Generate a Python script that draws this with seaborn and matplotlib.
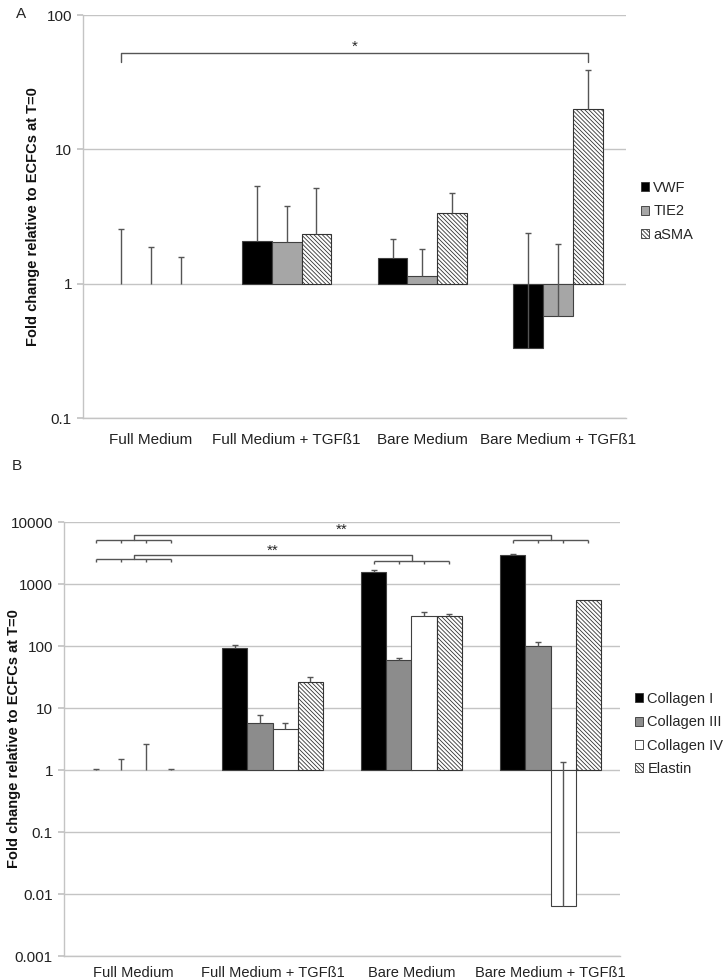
import numpy as np
import pandas as pd
import matplotlib
matplotlib.use('Agg')
import matplotlib.pyplot as plt
import seaborn as sns
from matplotlib.patches import Patch

# categories (same for both panels)
conditions = ['Full Medium', 'Full Medium + TGFß1', 'Bare Medium', 'Bare Medium + TGFß1']

# panel A - fold change (bar value) and top of the error bar
genes_a = ['VWF', 'TIE2', 'aSMA']
vwf = [1.0, 2.09, 1.55, 0.334]
vwf_top = [2.57, 5.3, 2.15, 2.39]
tie2 = [1.0, 2.06, 1.15, 0.573]
tie2_top = [1.86, 3.76, 1.81, 1.96]
asma = [1.0, 2.36, 3.38, 19.9]
asma_top = [1.57, 5.14, 4.7, 38.9]
ticks_a = ['0.1', '1', '10', '100']

# panel B
genes_b = ['Collagen I', 'Collagen III', 'Collagen IV', 'Elastin']
col1 = [1.0, 94, 1560, 2950]
col1_top = [1.03, 102, 1680, 3050]
col3 = [1.0, 5.8, 60.4, 100]
col3_top = [1.48, 7.7, 64, 117]
col4 = [1.0, 4.66, 307, 0.0064]
col4_top = [2.61, 5.75, 355, 1.33]
elastin = [1.0, 25.8, 310, 560]
elastin_top = [1.03, 31.4, 330, 560]
ticks_b = ['0.001', '0.01', '0.1', '1', '10', '100', '1000', '10000']

# significance brackets (fold values)
sig_a_level, sig_a_tick, sig_a_text = 52, 44.6, 58
sig_b_comb_hi, sig_b_long_hi, sig_b_text_hi = 5200, 6200, 7400
sig_b_comb_lo0, sig_b_comb_lo2, sig_b_long_lo, sig_b_text_lo = 2530, 2350, 2940, 3470

sns.set_theme(style='white')
plt.rcParams['font.family'] = ['Liberation Sans', 'DejaVu Sans']
plt.rcParams['hatch.linewidth'] = 0.6

W, H = 726, 980
fig = plt.figure(figsize=(W / 100, H / 100), dpi=100)

def px_axes(left, top, right, bottom):
    return fig.add_axes([left / W, 1 - bottom / H, (right - left) / W, (bottom - top) / H])

ax_a = px_axes(83, 15, 626, 418)
ax_b = px_axes(64, 522, 620, 956)

EDGE = '#404040'
ERR = '#555555'
GRID = '#c4c4c4'
HATCH = '\\' * 8


def make_frame(genes, values, tops):
    df = pd.DataFrame({
        'condition': conditions * len(genes),
        'gene': np.repeat(genes, len(conditions)),
        'fold': sum(values, []),
        'top': sum(tops, []),
    })
    df['log_fold'] = np.log10(df['fold'])
    return df


def draw_panel(ax, df, genes, colors, hatches, width, ticklabels):
    sns.barplot(data=df, x='condition', y='log_fold', hue='gene', order=conditions,
                hue_order=genes, palette=colors, width=width, gap=0, errorbar=None,
                saturation=1, legend=False, edgecolor=EDGE, linewidth=0.8, ax=ax)
    centers = {}
    for i, g in enumerate(genes):
        for j, c in enumerate(conditions):
            p = ax.patches[i * len(conditions) + j]
            if hatches[i]:
                p.set_hatch(hatches[i])
                p.set_edgecolor('#333333')
            if p.get_height() == 0:
                p.set_linewidth(0)
            x = p.get_x() + p.get_width() / 2
            centers[(j, i)] = x
            row = df[(df.gene == g) & (df.condition == c)].iloc[0]
            if row['top'] > row['fold']:
                ax.vlines(x, np.log10(row['fold']), np.log10(row['top']), color=ERR, lw=1, zorder=4)
                ax.plot(x, np.log10(row['top']), marker='_', ms=5, mew=1, color=ERR, zorder=4)
    vals = [np.log10(float(t)) for t in ticklabels]
    ax.set_ylim(vals[0], vals[-1])
    ax.set_yticks(vals)
    ax.set_yticklabels(ticklabels)
    ax.set_xlim(-0.5, len(conditions) - 0.5)
    ax.set_axisbelow(True)
    ax.grid(axis='y', color=GRID, lw=1.0)
    ax.grid(axis='x', visible=False)
    for s in ['top', 'right']:
        ax.spines[s].set_visible(False)
    for s in ['left', 'bottom']:
        ax.spines[s].set_color(GRID)
        ax.spines[s].set_linewidth(1.0)
    ax.tick_params(axis='y', left=True, length=4, color=GRID, pad=4, labelsize=11, labelcolor='#222222')
    ax.tick_params(axis='x', bottom=False, labelsize=11, labelcolor='#222222')
    ax.set_xlabel('')
    ax.set_ylabel('Fold change relative to ECFCs at T=0', fontsize=10.5, fontweight='bold', color='#111111')
    return centers


def comb(ax, xs, level, drop):
    y = np.log10(level)
    ax.hlines(y, xs[0], xs[-1], color=ERR, lw=1)
    ax.vlines(xs, y - drop, y, color=ERR, lw=1)
    return (xs[0] + xs[-1]) / 2, y


# ---- panel A
df_a = make_frame(genes_a, [vwf, tie2, asma], [vwf_top, tie2_top, asma_top])
cen_a = draw_panel(ax_a, df_a, genes_a, ['#000000', '#a6a6a6', '#ffffff'], [None, None, HATCH], 0.66, ticks_a)
ax_a.tick_params(axis='x', pad=5)
ax_a.yaxis.set_label_coords(-0.079, 0.5)

x0, x1 = cen_a[(0, 0)], cen_a[(3, 2)]
ya, yt = np.log10(sig_a_level), np.log10(sig_a_tick)
ax_a.plot([x0, x0, x1, x1], [yt, ya, ya, yt], color=ERR, lw=1)
ax_a.text((x0 + x1) / 2, np.log10(sig_a_text), '*', ha='center', va='center', fontsize=11)

# ---- panel B
df_b = make_frame(genes_b, [col1, col3, col4, elastin], [col1_top, col3_top, col4_top, elastin_top])
cen_b = draw_panel(ax_b, df_b, genes_b, ['#000000', '#8c8c8c', '#ffffff', '#ffffff'],
                   [None, None, None, HATCH], 0.72, ticks_b)
ax_b.tick_params(axis='x', pad=1, labelsize=10.5)
ax_b.yaxis.set_label_coords(-0.077, 0.5)

drop = 0.056
xs = lambda j: [cen_b[(j, i)] for i in range(4)]
# upper: Full Medium vs Bare Medium + TGFß1
m0, c0 = comb(ax_b, xs(0), sig_b_comb_hi, drop)
m3, c3 = comb(ax_b, xs(3), sig_b_comb_hi, drop)
yl = np.log10(sig_b_long_hi)
ax_b.plot([m0, m0, m3, m3], [c0, yl, yl, c3], color=ERR, lw=1)
ax_b.text((m0 + m3) / 2, np.log10(sig_b_text_hi), '**', ha='center', va='center', fontsize=11)
# lower: Full Medium vs Bare Medium
m0, c0 = comb(ax_b, xs(0), sig_b_comb_lo0, drop)
m2, c2 = comb(ax_b, xs(2), sig_b_comb_lo2, drop)
yl = np.log10(sig_b_long_lo)
ax_b.plot([m0, m0, m2, m2], [c0, yl, yl, c2], color=ERR, lw=1)
ax_b.text((m0 + m2) / 2, np.log10(sig_b_text_lo), '**', ha='center', va='center', fontsize=11)

# legends
def legend(genes, colors, hatches, x, top):
    handles = [Patch(facecolor=c, edgecolor='#333333', hatch=h, linewidth=0.6)
               for c, h in zip(colors, hatches)]
    fig.legend(handles, genes, loc='upper left', bbox_to_anchor=(x / W, 1 - top / H),
               frameon=False, fontsize=10.5, handlelength=0.55, handleheight=0.55,
               handletextpad=0.3, labelspacing=0.64, borderpad=0, borderaxespad=0)

legend(genes_a, ['#000000', '#a6a6a6', '#ffffff'], [None, None, HATCH], 641, 181)
legend(genes_b, ['#000000', '#8c8c8c', '#ffffff', '#ffffff'], [None, None, None, HATCH], 635, 692)

fig.text(16 / W, 1 - 14 / H, 'A', fontsize=11, va='center', ha='left')
fig.text(12 / W, 1 - 466 / H, 'B', fontsize=11, va='center', ha='left')

fig.savefig('out.png', dpi=100)
